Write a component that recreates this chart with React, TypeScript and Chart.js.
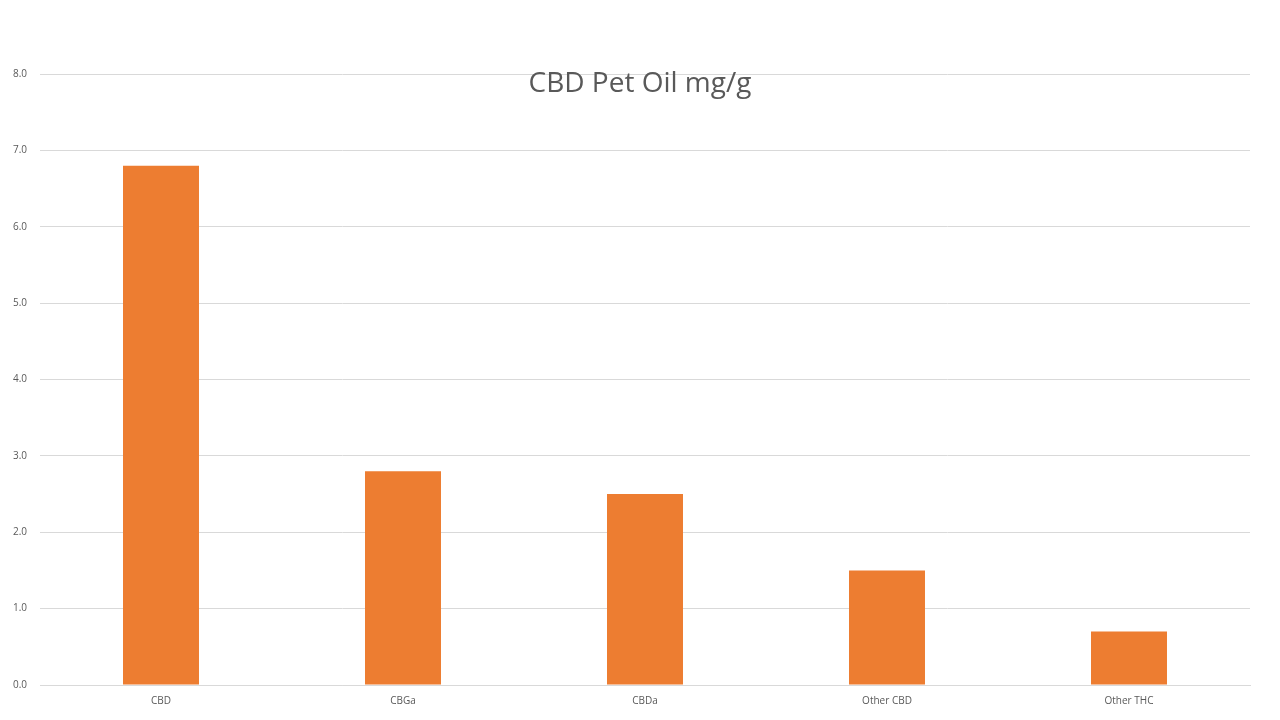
import React, { useEffect, useRef } from "react";
import { Chart, registerables } from "chart.js";

Chart.register(...registerables);

const categories = ["CBD", "CBGa", "CBDa", "Other CBD", "Other THC"];
const values = [6.8, 2.8, 2.5, 1.5, 0.7];
const titleText = "CBD Pet Oil mg/g";

export default function App() {
  const ref = useRef<HTMLCanvasElement | null>(null);
  useEffect(() => {
    if (!ref.current) return;
    const titlePlugin = {
      id: "floatTitle",
      afterDraw(chart: any) {
        const ctx = chart.ctx;
        ctx.save();
        ctx.font = "28px 'Open Sans'";
        ctx.fillStyle = "#595959";
        ctx.textAlign = "center";
        ctx.textBaseline = "middle";
        ctx.fillText(titleText, 640, 84);
        ctx.restore();
      },
    };
    const chart = new Chart(ref.current, {
      type: "bar",
      data: {
        labels: categories,
        datasets: [
          {
            data: values,
            backgroundColor: "#ED7D31",
            categoryPercentage: 1,
            barPercentage: 0.314,
          },
        ],
      },
      options: {
        animation: false,
        responsive: false,
        maintainAspectRatio: false,
        layout: { padding: { top: 74, right: 30, left: 0, bottom: 0 } },
        plugins: { legend: { display: false }, title: { display: false }, tooltip: { enabled: false } },
        scales: {
          x: {
            grid: { display: false, drawTicks: false },
            border: { display: true, color: "#d9d9d9" },
            ticks: { color: "#595959", font: { family: "'Open Sans'", size: 10 }, padding: 10 },
            afterFit(scale: any) {
              scale.height = 35;
            },
          },
          y: {
            min: 0,
            max: 8,
            ticks: {
              stepSize: 1,
              color: "#595959",
              font: { family: "'Open Sans'", size: 10 },
              padding: 13,
              callback: (v: any) => Number(v).toFixed(1),
            },
            grid: { color: "#d9d9d9", drawTicks: false },
            border: { display: false },
            afterFit(scale: any) {
              scale.width = 40;
            },
          },
        },
      },
      plugins: [titlePlugin],
    });
    return () => chart.destroy();
  }, []);
  return (
    <div style={{ position: "fixed", left: 0, top: 0, width: 1280, height: 720, background: "#fff" }}>
      <canvas ref={ref} width={1280} height={720} />
    </div>
  );
}
